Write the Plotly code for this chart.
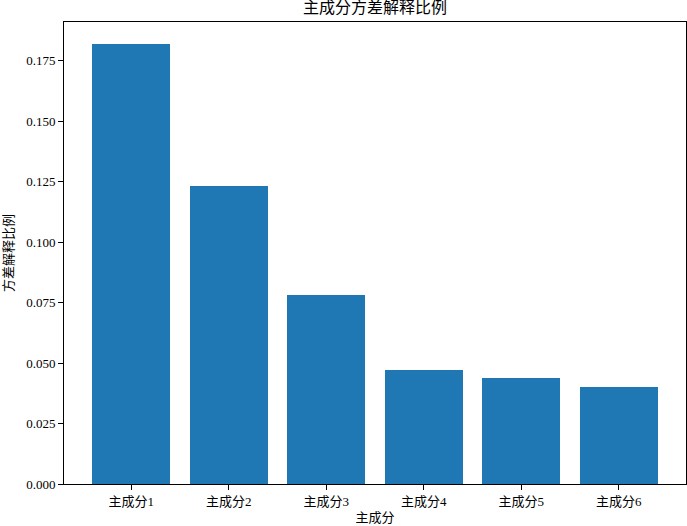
import plotly.graph_objects as go

components = ["主成分1", "主成分2", "主成分3", "主成分4", "主成分5", "主成分6"]
explained_ratio = [0.182, 0.123, 0.078, 0.047, 0.044, 0.040]
y_ticks = [0.000, 0.025, 0.050, 0.075, 0.100, 0.125, 0.150, 0.175]

FONT = "Liberation Serif, Noto Sans CJK SC"

fig = go.Figure(
    go.Bar(
        x=list(range(len(components))),
        y=explained_ratio,
        width=0.8,
        marker=dict(color="#1f77b4", line=dict(width=0)),
    )
)

axis_common = dict(
    showline=True,
    linecolor="black",
    linewidth=1,
    mirror=True,
    ticks="outside",
    ticklen=5,
    tickcolor="black",
    showgrid=False,
    zeroline=False,
    automargin=False,
    tickfont=dict(family=FONT, size=13, color="black"),
)

fig.update_layout(
    width=687,
    height=526,
    margin=dict(l=64, r=1, t=22, b=42, autoexpand=False),
    plot_bgcolor="white",
    paper_bgcolor="white",
    showlegend=False,
    font=dict(family=FONT, color="black"),
    title=dict(
        text="主成分方差解释比例",
        x=0.5,
        xref="paper",
        xanchor="center",
        y=1,
        yref="container",
        yanchor="top",
        pad=dict(t=2),
        font=dict(family=FONT, size=16, color="black"),
    ),
    bargap=0,
)
fig.update_xaxes(
    range=[-0.69, 5.69],
    tickvals=list(range(len(components))),
    ticktext=components,
    title=dict(text="主成分", font=dict(family=FONT, size=13), standoff=5),
    **axis_common,
)
fig.update_yaxes(
    range=[0, 0.191],
    tickvals=y_ticks,
    tickformat=".3f",
    **axis_common,
)

# y title as an annotation so it can sit right at the left edge
fig.add_annotation(
    text="方差解释比例",
    xref="paper",
    yref="paper",
    x=0,
    y=0.5,
    xanchor="center",
    yanchor="middle",
    xshift=-56,
    textangle=-90,
    showarrow=False,
    font=dict(family=FONT, size=13, color="black"),
)

# the page body has a default margin, drop it so the figure sits at 0,0
fig.write_html(
    "out.html",
    config={"displayModeBar": False},
    post_script="document.body.style.margin = '0';",
)
